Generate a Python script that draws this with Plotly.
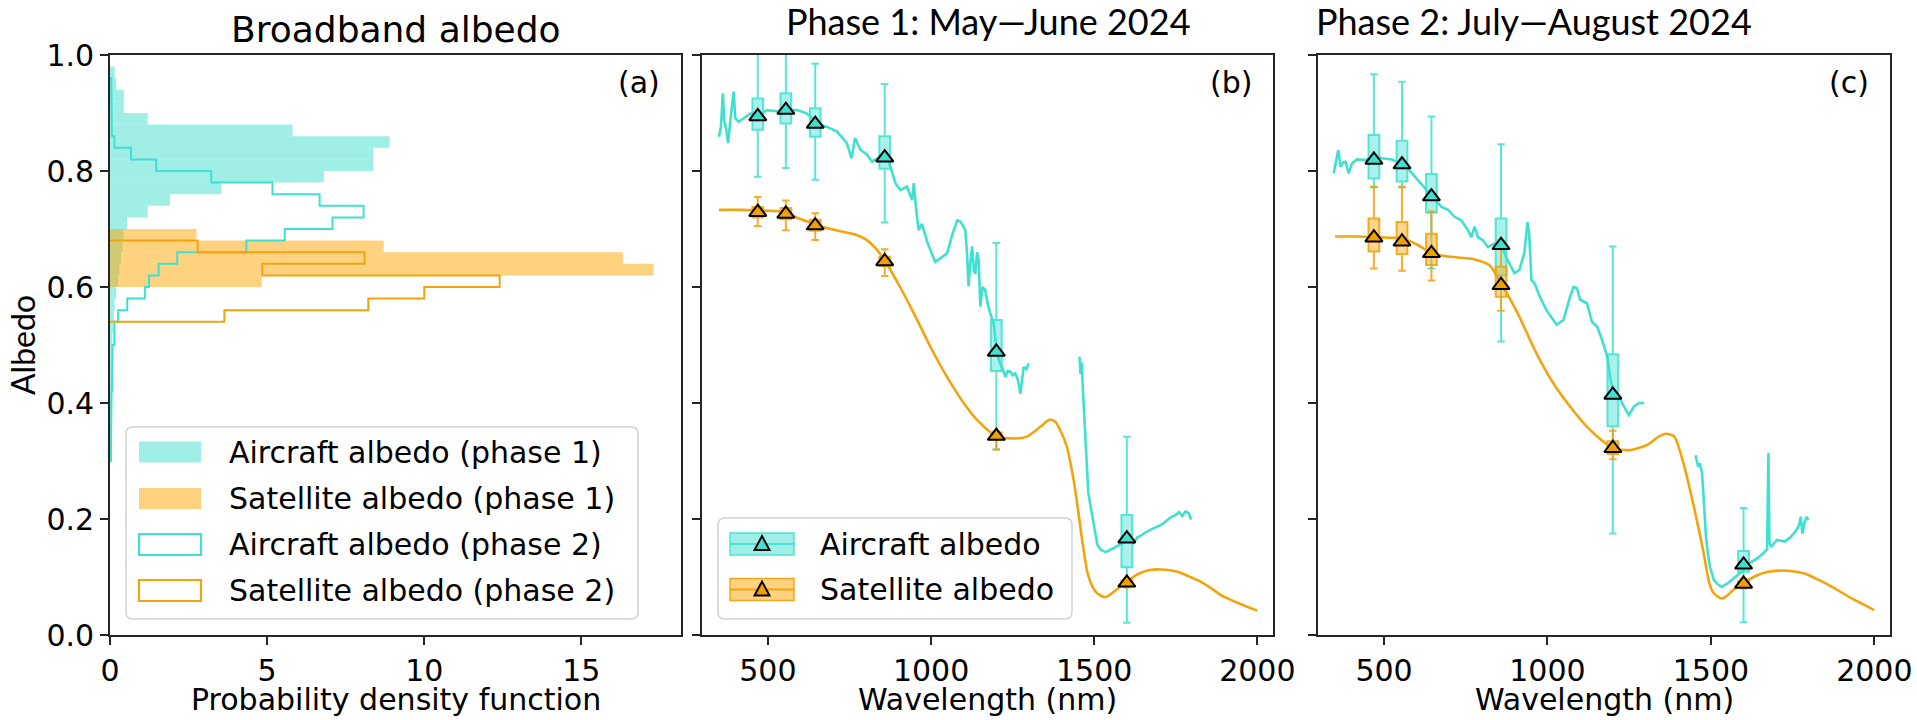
import plotly.graph_objects as go

# ---------------- Figure geometry ----------------
W, H = 1917, 720
ML, MR, MT, MB = 110, 27, 55, 85
PW, PH = W - ML - MR, H - MT - MB


def px_x(v):
    return (v - ML) / PW


def px_y(v):
    return (H - MB - v) / PH


TURQ = "#40E0D0"
TURQ_FILL = "rgba(64,224,208,0.5)"
ORNG = "#FFA500"
ORNG_LINE = "#F2A40E"
ORNG_FILL = "rgba(255,165,0,0.5)"
AX = "#262626"
FONT = "DejaVu Sans"
TITLE_FONT = "Lato"

# ---------------- (a) broadband albedo histograms ----------------
BIN_W = 0.02
ac1_bins = [0.30, 0.32, 0.34, 0.36, 0.38, 0.40, 0.42, 0.44, 0.46, 0.48, 0.50, 0.52,
            0.54, 0.56, 0.58, 0.60, 0.62, 0.64, 0.66, 0.68, 0.70, 0.72, 0.74, 0.76,
            0.78, 0.80, 0.82, 0.84, 0.86, 0.88, 0.90, 0.92, 0.94, 0.96]
ac1_pdf = [0.03, 0.03, 0.04, 0.03, 0.04, 0.05, 0.05, 0.06, 0.06, 0.07, 0.08, 0.10,
           0.12, 0.15, 0.20, 0.25, 0.30, 0.35, 0.40, 0.43, 0.55, 1.20, 1.91, 3.55,
           6.81, 8.38, 8.38, 8.90, 5.81, 1.20, 0.44, 0.44, 0.20, 0.15]

sat1_bins = [0.60, 0.62, 0.64, 0.66, 0.68]
sat1_pdf = [4.83, 17.30, 16.32, 8.71, 2.75]

ac2_bins = [0.30, 0.32, 0.34, 0.36, 0.38, 0.40, 0.42, 0.44, 0.46, 0.48, 0.50, 0.52,
            0.54, 0.56, 0.58, 0.60, 0.62, 0.64, 0.66, 0.68, 0.70, 0.72, 0.74, 0.76,
            0.78, 0.80, 0.82, 0.84, 0.86, 0.88, 0.90, 0.92, 0.94]
ac2_pdf = [0.03, 0.03, 0.04, 0.04, 0.05, 0.05, 0.06, 0.06, 0.07, 0.08, 0.14, 0.14,
           0.26, 0.55, 1.11, 1.24, 1.55, 2.14, 4.34, 5.56, 7.08, 8.07, 6.67, 5.17,
           3.22, 1.47, 0.67, 0.14, 0.06, 0.06, 0.05, 0.05, 0.04]

sat2_bins = [0.54, 0.56, 0.58, 0.60, 0.62, 0.64, 0.66]
sat2_pdf = [3.64, 8.22, 10.00, 12.40, 4.85, 8.10, 2.79]

pdf_ticks = [0, 5, 10, 15]
albedo_ticks = [0.0, 0.2, 0.4, 0.6, 0.8, 1.0]
wl_ticks = [500, 1000, 1500, 2000]

# ---------------- (b) phase 1 spectra ----------------
ac_b_vis_wl = [350, 356, 362, 366, 372, 378, 386, 395, 400, 410, 426, 446, 472, 498, 528,
               559, 590, 620, 651, 681, 712, 742, 756, 767, 783, 804, 819, 845, 865, 880,
               891, 906, 926, 942, 947, 955, 962, 972, 990, 1013, 1030, 1049, 1065, 1080,
               1090, 1105, 1110, 1115, 1120, 1126, 1131, 1136, 1141, 1146, 1151, 1158,
               1166, 1174, 1182, 1192, 1202, 1210, 1217, 1228, 1235, 1243, 1250, 1258,
               1266, 1274, 1280, 1284, 1292, 1299]
ac_b_vis_alb = [0.859, 0.876, 0.934, 0.888, 0.872, 0.848, 0.893, 0.937, 0.891, 0.885,
                0.891, 0.899, 0.897, 0.905, 0.903, 0.905, 0.905, 0.899, 0.882, 0.876,
                0.868, 0.848, 0.822, 0.857, 0.837, 0.828, 0.816, 0.825, 0.826, 0.800,
                0.779, 0.767, 0.773, 0.750, 0.779, 0.730, 0.698, 0.709, 0.675, 0.643,
                0.650, 0.658, 0.690, 0.715, 0.713, 0.698, 0.660, 0.601, 0.640, 0.670,
                0.630, 0.623, 0.660, 0.647, 0.566, 0.600, 0.595, 0.570, 0.554, 0.537,
                0.486, 0.470, 0.462, 0.445, 0.455, 0.454, 0.448, 0.451, 0.440, 0.416,
                0.445, 0.462, 0.458, 0.468]
ac_b_swir_wl = [1455, 1458, 1461, 1464, 1468, 1472, 1477, 1482, 1488, 1495, 1502, 1510,
                1520, 1535, 1548, 1560, 1575, 1590, 1605, 1620, 1632, 1645, 1660, 1675,
                1690, 1705, 1720, 1735, 1750, 1760, 1770, 1780, 1790, 1797]
ac_b_swir_alb = [0.480, 0.450, 0.470, 0.440, 0.400, 0.350, 0.300, 0.245, 0.225, 0.200,
                 0.180, 0.155, 0.147, 0.143, 0.146, 0.150, 0.155, 0.160, 0.165, 0.158,
                 0.168, 0.172, 0.178, 0.182, 0.186, 0.190, 0.196, 0.203, 0.207, 0.212,
                 0.205, 0.213, 0.210, 0.199]
sat_b_wl = [350, 420, 470, 520, 549, 582, 620, 649, 699, 740, 770, 800, 830, 860, 880, 905,
            947, 998, 1049, 1100, 1141, 1200, 1243, 1294, 1335, 1363, 1380, 1396, 1416,
            1437, 1452, 1463, 1480, 1495, 1509, 1533, 1550, 1568, 1600, 1638, 1670, 1703,
            1756, 1790, 1826, 1860, 1897, 1950, 2000]
sat_b_alb = [0.733, 0.733, 0.732, 0.731, 0.729, 0.721, 0.713, 0.707, 0.699, 0.694, 0.690,
             0.682, 0.667, 0.644, 0.625, 0.600, 0.555, 0.497, 0.445, 0.400, 0.371, 0.343,
             0.339, 0.342, 0.359, 0.371, 0.368, 0.353, 0.325, 0.267, 0.210, 0.164, 0.106,
             0.083, 0.072, 0.065, 0.070, 0.078, 0.092, 0.106, 0.112, 0.113, 0.109, 0.101,
             0.092, 0.080, 0.066, 0.053, 0.042]

# ---------------- (c) phase 2 spectra ----------------
ac_c_vis_wl = [346, 353, 360, 367, 375, 382, 392, 402, 417, 443, 470, 493, 524, 549, 569,
               595, 625, 648, 676, 696, 716, 736, 757, 767, 777, 787, 802, 818, 838, 858,
               873, 888, 899, 914, 929, 939, 944, 951, 961, 977, 997, 1028, 1049, 1069,
               1080, 1090, 1100, 1121, 1136, 1152, 1167, 1183, 1193, 1203, 1219, 1234,
               1249, 1265, 1280, 1296]
ac_c_vis_alb = [0.796, 0.819, 0.836, 0.807, 0.815, 0.816, 0.796, 0.813, 0.820, 0.819,
                0.825, 0.822, 0.820, 0.813, 0.807, 0.790, 0.770, 0.756, 0.738, 0.733,
                0.721, 0.715, 0.698, 0.686, 0.704, 0.686, 0.681, 0.669, 0.675, 0.675,
                0.652, 0.635, 0.624, 0.629, 0.658, 0.712, 0.692, 0.612, 0.606, 0.583,
                0.560, 0.535, 0.543, 0.583, 0.600, 0.598, 0.578, 0.572, 0.540, 0.532,
                0.509, 0.480, 0.440, 0.417, 0.411, 0.394, 0.379, 0.394, 0.400, 0.400]
ac_c_swir_wl = [1453, 1458, 1461, 1466, 1473, 1478, 1485, 1491, 1497, 1509, 1520, 1533,
                1551, 1570, 1585, 1600, 1618, 1642, 1666, 1672, 1676, 1679, 1684, 1702,
                1726, 1744, 1762, 1770, 1775, 1780, 1787, 1793, 1798]
ac_c_swir_alb = [0.310, 0.300, 0.290, 0.296, 0.279, 0.235, 0.169, 0.140, 0.118, 0.095,
                 0.088, 0.083, 0.089, 0.098, 0.105, 0.112, 0.124, 0.132, 0.144, 0.148,
                 0.314, 0.160, 0.152, 0.164, 0.161, 0.169, 0.181, 0.190, 0.204, 0.175,
                 0.195, 0.204, 0.198]
sat_c_wl = [350, 420, 470, 520, 555, 605, 645, 690, 726, 774, 822, 858, 885, 914, 966,
            1018, 1069, 1121, 1172, 1200, 1255, 1306, 1340, 1363, 1388, 1419, 1450, 1476,
            1495, 1509, 1533, 1550, 1569, 1600, 1642, 1675, 1708, 1750, 1786, 1830, 1871,
            1931, 2000]
sat_c_alb = [0.687, 0.687, 0.686, 0.685, 0.684, 0.672, 0.658, 0.653, 0.651, 0.648, 0.638,
             0.606, 0.580, 0.549, 0.486, 0.434, 0.394, 0.359, 0.333, 0.322, 0.319, 0.328,
             0.342, 0.347, 0.342, 0.290, 0.216, 0.147, 0.090, 0.072, 0.063, 0.068, 0.078,
             0.090, 0.103, 0.109, 0.111, 0.110, 0.106, 0.095, 0.083, 0.063, 0.043]

# ---------------- band statistics (boxes, whiskers, means) ----------------
bands = [469, 555, 645, 858, 1200, 1600]

ac_b_mean = [0.894, 0.905, 0.881, 0.823, 0.488, 0.166]
ac_b_q1 = [0.871, 0.882, 0.859, 0.804, 0.455, 0.117]
ac_b_q3 = [0.925, 0.934, 0.908, 0.860, 0.543, 0.207]
ac_b_lo = [0.790, 0.805, 0.785, 0.711, 0.320, 0.021]
ac_b_hi = [1.050, 1.040, 0.985, 0.950, 0.676, 0.342]

sat_b_mean = [0.729, 0.726, 0.706, 0.644, 0.343, 0.090]
sat_b_q1 = [0.720, 0.717, 0.697, 0.636, 0.337, 0.086]
sat_b_q3 = [0.738, 0.736, 0.716, 0.652, 0.349, 0.094]
sat_b_lo = [0.705, 0.698, 0.681, 0.619, 0.320, 0.082]
sat_b_hi = [0.755, 0.749, 0.727, 0.665, 0.351, 0.097]

ac_c_mean = [0.819, 0.811, 0.756, 0.672, 0.414, 0.121]
ac_c_q1 = [0.787, 0.782, 0.728, 0.620, 0.360, 0.109]
ac_c_q3 = [0.862, 0.852, 0.795, 0.718, 0.484, 0.145]
ac_c_lo = [0.772, 0.772, 0.632, 0.506, 0.175, 0.022]
ac_c_hi = [0.967, 0.954, 0.894, 0.846, 0.670, 0.219]

sat_c_mean = [0.685, 0.678, 0.658, 0.603, 0.322, 0.088]
sat_c_q1 = [0.661, 0.657, 0.638, 0.583, 0.312, 0.084]
sat_c_q3 = [0.718, 0.712, 0.692, 0.635, 0.334, 0.093]
sat_c_lo = [0.632, 0.628, 0.611, 0.559, 0.303, 0.080]
sat_c_hi = [0.773, 0.773, 0.730, 0.680, 0.352, 0.097]

hist_legend = ["Aircraft albedo (phase 1)", "Satellite albedo (phase 1)",
               "Aircraft albedo (phase 2)", "Satellite albedo (phase 2)"]
spec_legend = ["Aircraft albedo", "Satellite albedo"]

fig = go.Figure()


# ---------- panel (a) ----------
def centers(bins):
    return [b + BIN_W / 2 for b in bins]


def step_outline(bins, pdf):
    xs, ys = [0], [bins[0]]
    for lo, h in zip(bins, pdf):
        xs += [h, h]
        ys += [lo, lo + BIN_W]
    xs.append(0)
    ys.append(bins[-1] + BIN_W)
    return xs, ys


for bins, pdf, col in [(ac1_bins, ac1_pdf, TURQ_FILL), (sat1_bins, sat1_pdf, ORNG_FILL)]:
    fig.add_trace(go.Bar(y=centers(bins), x=pdf, orientation="h", width=BIN_W,
                         marker=dict(color=col, line=dict(width=0)),
                         xaxis="x", yaxis="y", showlegend=False, hoverinfo="skip"))

for bins, pdf, col in [(ac2_bins, ac2_pdf, TURQ), (sat2_bins, sat2_pdf, ORNG_LINE)]:
    xs, ys = step_outline(bins, pdf)
    fig.add_trace(go.Scatter(x=xs, y=ys, mode="lines", line=dict(color=col, width=2),
                             xaxis="x", yaxis="y", showlegend=False, hoverinfo="skip"))


# ---------- panels (b) and (c) ----------
def spectra(xa, ya, vis_wl, vis_alb, swir_wl, swir_alb, s_wl, s_alb):
    fig.add_trace(go.Scatter(x=vis_wl + [None] + swir_wl, y=vis_alb + [None] + swir_alb,
                             mode="lines", line=dict(color=TURQ, width=2.6),
                             connectgaps=False, xaxis=xa, yaxis=ya,
                             showlegend=False, hoverinfo="skip"))
    fig.add_trace(go.Scatter(x=s_wl, y=s_alb, mode="lines",
                             line=dict(color=ORNG_LINE, width=2.6, shape="spline",
                                       smoothing=0.7),
                             xaxis=xa, yaxis=ya, showlegend=False, hoverinfo="skip"))


def band_boxes(xa, ya, mean, q1, q3, lo, hi, fill, edge, marker_col):
    fig.add_trace(go.Box(x=bands, q1=q1, median=mean, q3=q3, lowerfence=lo,
                         upperfence=hi, orientation="v", width=33, whiskerwidth=0.7,
                         fillcolor=fill, line=dict(color=edge, width=2),
                         boxpoints=False, xaxis=xa, yaxis=ya,
                         showlegend=False, hoverinfo="skip"))
    fig.add_trace(go.Scatter(x=bands, y=mean, mode="markers",
                             marker=dict(symbol="triangle-up", size=15, color=marker_col,
                                         line=dict(color="black", width=2)),
                             xaxis=xa, yaxis=ya, showlegend=False, hoverinfo="skip"))


spectra("x2", "y2", ac_b_vis_wl, ac_b_vis_alb, ac_b_swir_wl, ac_b_swir_alb,
        sat_b_wl, sat_b_alb)
band_boxes("x2", "y2", ac_b_mean, ac_b_q1, ac_b_q3, ac_b_lo, ac_b_hi,
           "rgba(64,224,208,0.45)", "rgba(64,224,208,0.85)", TURQ)
band_boxes("x2", "y2", sat_b_mean, sat_b_q1, sat_b_q3, sat_b_lo, sat_b_hi,
           "rgba(255,165,0,0.45)", "rgba(240,160,10,0.85)", "#F0A000")

spectra("x3", "y3", ac_c_vis_wl, ac_c_vis_alb, ac_c_swir_wl, ac_c_swir_alb,
        sat_c_wl, sat_c_alb)
band_boxes("x3", "y3", ac_c_mean, ac_c_q1, ac_c_q3, ac_c_lo, ac_c_hi,
           "rgba(64,224,208,0.45)", "rgba(64,224,208,0.85)", TURQ)
band_boxes("x3", "y3", sat_c_mean, sat_c_q1, sat_c_q3, sat_c_lo, sat_c_hi,
           "rgba(255,165,0,0.45)", "rgba(240,160,10,0.85)", "#F0A000")

# ---------------- axes ----------------
axis_common = dict(showline=True, linecolor=AX, linewidth=1.6, mirror=True,
                   ticks="outside", ticklen=8, tickwidth=1.6, tickcolor=AX,
                   showgrid=False, zeroline=False,
                   tickfont=dict(family=FONT, size=30, color="black"))

dom_a = [px_x(110), px_x(681)]
dom_b = [px_x(702), px_x(1273)]
dom_c = [px_x(1318), px_x(1890)]

layout_axes = dict(
    xaxis=dict(domain=dom_a, range=[0, 18.17], tickvals=pdf_ticks, anchor="y",
               **axis_common),
    xaxis2=dict(domain=dom_b, range=[298, 2048], tickvals=wl_ticks, anchor="y2",
                **axis_common),
    xaxis3=dict(domain=dom_c, range=[298, 2048], tickvals=wl_ticks, anchor="y3",
                **axis_common),
    yaxis=dict(domain=[0, 1], range=[0, 1], tickvals=albedo_ticks, tickformat=".1f",
               anchor="x", **axis_common),
    yaxis2=dict(domain=[0, 1], range=[0, 1], tickvals=albedo_ticks,
                showticklabels=False, anchor="x2", **axis_common),
    yaxis3=dict(domain=[0, 1], range=[0, 1], tickvals=albedo_ticks,
                showticklabels=False, anchor="x3", **axis_common),
)

# ---------------- text ----------------
ann = []


def text(x, y, s, size=30, family=FONT, xanchor="center", yanchor="middle", angle=0):
    ann.append(dict(x=x, y=y, xref="paper", yref="paper", text=s, showarrow=False,
                    xanchor=xanchor, yanchor=yanchor, textangle=angle,
                    font=dict(family=family, size=size, color="black")))


text(px_x(395.5), px_y(29), "Broadband albedo", size=36)
text(px_x(988), px_y(21), "Phase 1: May\u2014June 2024", size=36, family=TITLE_FONT)
text(px_x(1314), px_y(21), "Phase 2: July\u2014August 2024", size=36,
     family=TITLE_FONT, xanchor="left")
text(px_x(22), px_y(345), "Albedo", size=32, family=TITLE_FONT, angle=-90)
text(px_x(395.5), px_y(699), "Probability density function")
text(px_x(987.5), px_y(699), "Wavelength (nm)")
text(px_x(1604), px_y(699), "Wavelength (nm)")
text(px_x(662), px_y(82), "(a)", xanchor="right")
text(px_x(1254), px_y(82), "(b)", xanchor="right")
text(px_x(1871), px_y(82), "(c)", xanchor="right")

# ---------------- hand-built legends ----------------
shapes = []


def rrect_path(x0, y0, x1, y1, r):
    X = lambda v: f"{px_x(v):.5f}"
    Y = lambda v: f"{px_y(v):.5f}"
    return (f"M {X(x0 + r)},{Y(y0)} L {X(x1 - r)},{Y(y0)} Q {X(x1)},{Y(y0)} {X(x1)},{Y(y0 + r)} "
            f"L {X(x1)},{Y(y1 - r)} Q {X(x1)},{Y(y1)} {X(x1 - r)},{Y(y1)} "
            f"L {X(x0 + r)},{Y(y1)} Q {X(x0)},{Y(y1)} {X(x0)},{Y(y1 - r)} "
            f"L {X(x0)},{Y(y0 + r)} Q {X(x0)},{Y(y0)} {X(x0 + r)},{Y(y0)} Z")


def frame(x0, y0, x1, y1):
    shapes.append(dict(type="path", xref="paper", yref="paper",
                       path=rrect_path(x0, y0, x1, y1, 7),
                       fillcolor="rgba(255,255,255,0.85)",
                       line=dict(color="#d2d2d2", width=1.5), layer="above"))


def rect(x0, y0, x1, y1, fill, edge, width=1.5):
    shapes.append(dict(type="rect", xref="paper", yref="paper",
                       x0=px_x(x0), x1=px_x(x1), y0=px_y(y1), y1=px_y(y0),
                       fillcolor=fill, line=dict(color=edge, width=width), layer="above"))


def hline(x0, x1, y, col):
    shapes.append(dict(type="line", xref="paper", yref="paper",
                       x0=px_x(x0), x1=px_x(x1), y0=px_y(y), y1=px_y(y),
                       line=dict(color=col, width=2), layer="above"))


def tri(cx, cy, fill):
    pts = [(cx - 7.5, cy + 6), (cx + 7.5, cy + 6), (cx, cy - 8)]
    p = "M " + " L ".join(f"{px_x(a):.5f},{px_y(b):.5f}" for a, b in pts) + " Z"
    shapes.append(dict(type="path", xref="paper", yref="paper", path=p,
                       fillcolor=fill, line=dict(color="black", width=2), layer="above"))


# legend of panel (a)
frame(126, 427, 638, 619)
rows_a = [452, 498.5, 544.5, 590.5]
swatch_styles = [(TURQ_FILL, "rgba(0,0,0,0)", 0), (ORNG_FILL, "rgba(0,0,0,0)", 0),
                 ("white", TURQ, 2.2), ("white", ORNG_LINE, 2.2)]
for yc, lab, (fill, edge, lw) in zip(rows_a, hist_legend, swatch_styles):
    rect(139, yc - 10.5, 201, yc + 10.5, fill, edge, lw)
    text(px_x(227), px_y(yc), lab, xanchor="left")

# legend of panel (b)
frame(718, 518, 1072, 619)
rows_b = [544, 589.5]
icon_styles = [("rgba(64,224,208,0.5)", "rgba(64,224,208,0.9)", TURQ),
               ("rgba(255,165,0,0.5)", "rgba(240,160,10,0.9)", "#F0A000")]
for yc, lab, (fill, edge, mcol) in zip(rows_b, spec_legend, icon_styles):
    rect(730, yc - 11, 794, yc + 11, fill, edge, 1.5)
    hline(730, 794, yc, edge)
    tri(762, yc, mcol)
    text(px_x(818), px_y(yc), lab, xanchor="left")

fig.update_layout(
    width=W, height=H,
    margin=dict(l=ML, r=MR, t=MT, b=MB, autoexpand=False),
    paper_bgcolor="white", plot_bgcolor="white",
    barmode="overlay", boxmode="overlay",
    showlegend=False,
    annotations=ann, shapes=shapes,
    **layout_axes,
)

fig.write_html("out.html")
